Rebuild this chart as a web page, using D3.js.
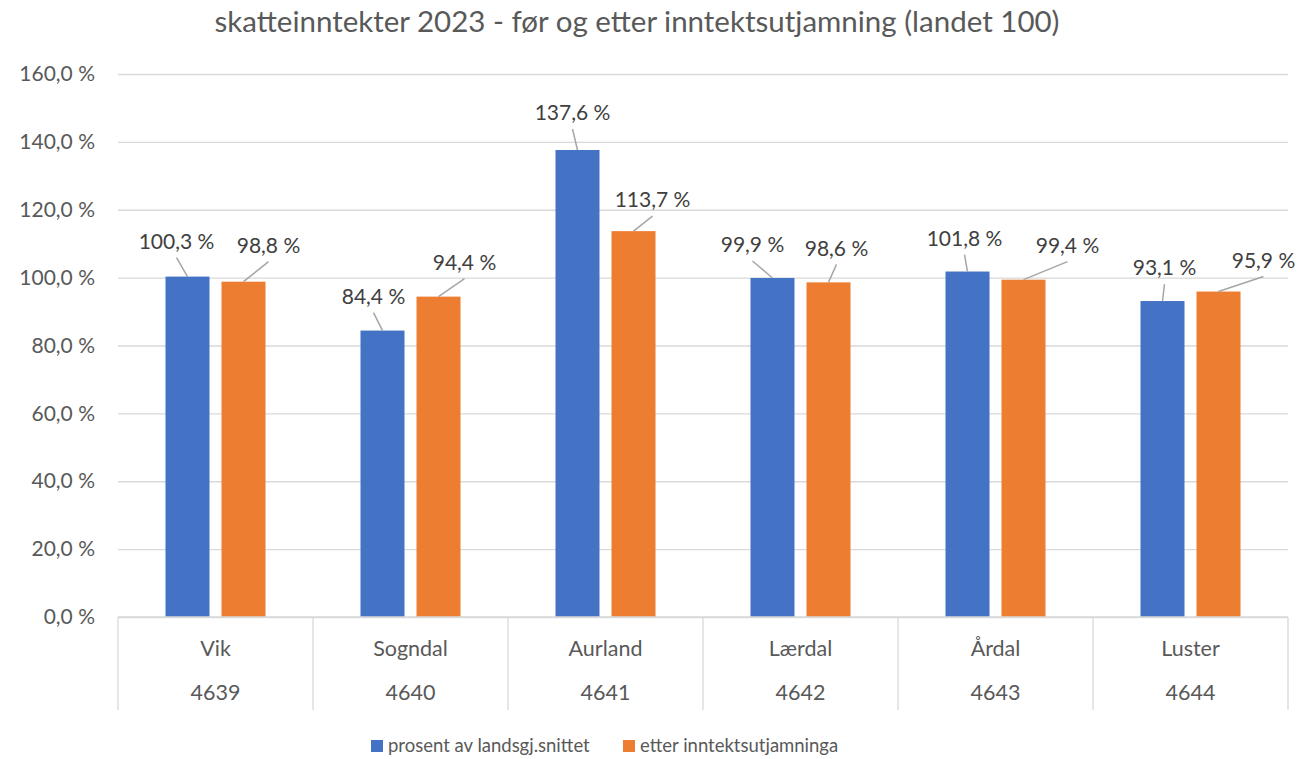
<!DOCTYPE html>
<html><head><meta charset="utf-8">
<script src="https://cdn.jsdelivr.net/npm/d3@7/dist/d3.min.js"></script>
<style>body{margin:0;background:#fff;} text{font-family:Lato, "Open Sans", sans-serif;}</style>
</head><body>
<svg id="c" width="1299" height="759"></svg>
<script>
const names = ["Vik","Sogndal","Aurland","Lærdal","Årdal","Luster"];
const codes = ["4639","4640","4641","4642","4643","4644"];
const seriesNames = ["prosent av landsgj.snittet","etter inntektsutjamninga"];
const before = [100.3,84.4,137.6,99.9,101.8,93.1];
const after = [98.8,94.4,113.7,98.6,99.4,95.9];
const yTicks = [0,20,40,60,80,100,120,140,160];
const title = "skatteinntekter 2023 - før og etter inntektsutjamning (landet 100)";
// label offsets (styling): [dx, dy] from bar top centre to label centre
const labelOffsets = [
  [[-11,-35],[25,-36]],
  [[-9,-34],[26,-34]],
  [[-5,-37],[19,-31]],
  [[-20,-33],[8,-34]],
  [[-3,-33],[44,-34]],
  [[2,-33],[45,-31]]
];
const colors = ["#4472C4","#ED7D31"];
const textColor = "#595959";

const svg = d3.select("#c");
const pLeft = 118, pRight = 1288, pTop = 74, pBottom = 617;
const fmt = v => d3.format(".1f")(v).replace(".", ",") + " %";

const y = d3.scaleLinear().domain([0,160]).range([pBottom, pTop]);
const x0 = d3.scaleBand().domain(names).range([pLeft, pRight]).paddingInner(0).paddingOuter(0);
const x1 = d3.scaleBand().domain([0,1]).range([0, x0.bandwidth()]).paddingInner(0.2143).paddingOuter(0.848);

// title
svg.append("text").attr("x", 637).attr("y", 22).attr("dy","0.35em").attr("text-anchor","middle")
  .attr("font-size", 29.5).attr("fill", textColor).text(title);

// gridlines
const yAxis = d3.axisLeft(y).tickValues(yTicks).tickSize(-(pRight-pLeft)).tickFormat(fmt);
const ga = svg.append("g").attr("transform", `translate(${pLeft},0)`).call(yAxis);
ga.select(".domain").remove();
ga.selectAll(".tick line").attr("stroke", "#d9d9d9").attr("stroke-width", 1.3);
ga.selectAll(".tick text").attr("x", -23).attr("font-size", 21).attr("fill", textColor)
  .attr("font-family","Lato, sans-serif");

// bars
const data = names.map((n,i)=>({name:n, vals:[before[i], after[i]], i}));
const groups = svg.append("g").selectAll("g").data(data).join("g")
  .attr("transform", d => `translate(${x0(d.name)},0)`);
groups.selectAll("rect").data(d => d.vals.map((v,k)=>({v,k}))).join("rect")
  .attr("x", d => x1(d.k)).attr("width", x1.bandwidth())
  .attr("y", d => y(d.v)).attr("height", d => y(0) - y(d.v))
  .attr("fill", d => colors[d.k]);

// labels with leader lines
data.forEach(d => {
  d.vals.forEach((v,k) => {
    const bx = x0(d.name) + x1(k) + x1.bandwidth()/2;
    const by = y(v);
    const [dx, dy] = labelOffsets[d.i][k];
    const lx = bx + dx, ly = by + dy;
    svg.append("line").attr("x1", bx).attr("y1", by).attr("x2", lx).attr("y2", ly + 16)
      .attr("stroke", "#a6a6a6").attr("stroke-width", 1.5);
    svg.append("text").attr("x", lx).attr("y", ly).attr("dy", "0.35em").attr("text-anchor","middle")
      .attr("font-size", 21).attr("fill", "#404040").text(fmt(v));
  });
});

// category axis
const ax = svg.append("g");
ax.append("line").attr("x1", pLeft).attr("x2", pRight).attr("y1", pBottom).attr("y2", pBottom)
  .attr("stroke", "#d9d9d9").attr("stroke-width", 1.3);
const bounds = names.map(n => x0(n)).concat([pRight]);
ax.selectAll(".sep").data(bounds).join("line").attr("class","sep")
  .attr("x1", d=>d).attr("x2", d=>d).attr("y1", pBottom).attr("y2", 710)
  .attr("stroke", "#d9d9d9").attr("stroke-width", 1.3);
ax.selectAll(".nm").data(names).join("text").attr("class","nm")
  .attr("x", d => x0(d) + x0.bandwidth()/2).attr("y", 648).attr("dy","0.35em")
  .attr("text-anchor","middle").attr("font-size", 21.5).attr("fill", textColor).text(d=>d);
ax.selectAll(".cd").data(codes).join("text").attr("class","cd")
  .attr("x", (d,i) => x0(names[i]) + x0.bandwidth()/2).attr("y", 692).attr("dy","0.35em")
  .attr("text-anchor","middle").attr("font-size", 21.5).attr("fill", textColor).text(d=>d);

// legend
const legX = [371, 623];
seriesNames.forEach((s,k) => {
  svg.append("rect").attr("x", legX[k]).attr("y", 740).attr("width", 12).attr("height", 12).attr("fill", colors[k]);
  svg.append("text").attr("x", legX[k] + 17).attr("y", 746).attr("dy","0.35em")
    .attr("font-size", 18.5).attr("fill", textColor).text(s);
});
</script>
</body></html>
